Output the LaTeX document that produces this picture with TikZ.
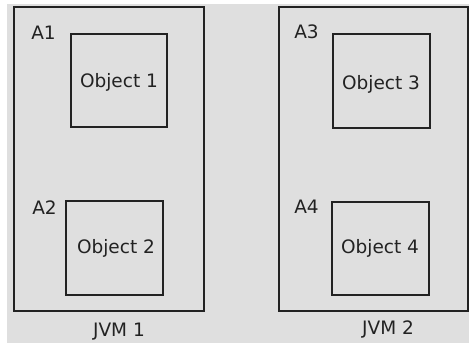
\documentclass[tikz,border=0pt]{standalone}
\usepackage{fontspec}
\setmainfont{DejaVu Sans}
\definecolor{bggray}{HTML}{DFDFDF}
\definecolor{linecol}{HTML}{222222}
\tikzset{
  box/.style={draw=linecol, line width=2pt, anchor=north west, inner sep=0pt},
  lbl/.style={anchor=base, inner sep=0pt, font=\fontsize{18.5}{20}\selectfont, text=linecol},
}
\begin{document}
\begin{tikzpicture}[x=1pt,y=-1pt]
\useasboundingbox (0,0) rectangle (469,343);
\fill[white] (0,0) rectangle (469,343);
\fill[bggray] (7,4) rectangle (469,343);
% outer JVM boxes
\node[box, minimum width=190pt, minimum height=304pt] (jvm1box) at (13,6) {};
\node[box, minimum width=189pt, minimum height=304pt] (jvm2box) at (278,6) {};
% object boxes
\node[box, minimum width=96pt, minimum height=93pt] (o1box) at (70,33) {};
\node[box, minimum width=97pt, minimum height=94pt] (o2box) at (65,200) {};
\node[box, minimum width=97pt, minimum height=94pt] (o3box) at (332,33) {};
\node[box, minimum width=97pt, minimum height=93pt] (o4box) at (331,201) {};
% labels
\node[lbl] (o1) at (119,87) {Object 1};
\node[lbl] (o2) at (116,253) {Object 2};
\node[lbl] (o3) at (381,89) {Object 3};
\node[lbl] (o4) at (380,253) {Object 4};
\node[lbl] (a1) at (43.5,39) {A1};
\node[lbl] (a2) at (44.5,214) {A2};
\node[lbl] (a3) at (306.5,38) {A3};
\node[lbl] (a4) at (306.5,213) {A4};
\node[lbl] (j1) at (119,336) {JVM 1};
\node[lbl] (j2) at (388,334) {JVM 2};
\end{tikzpicture}
\end{document}
